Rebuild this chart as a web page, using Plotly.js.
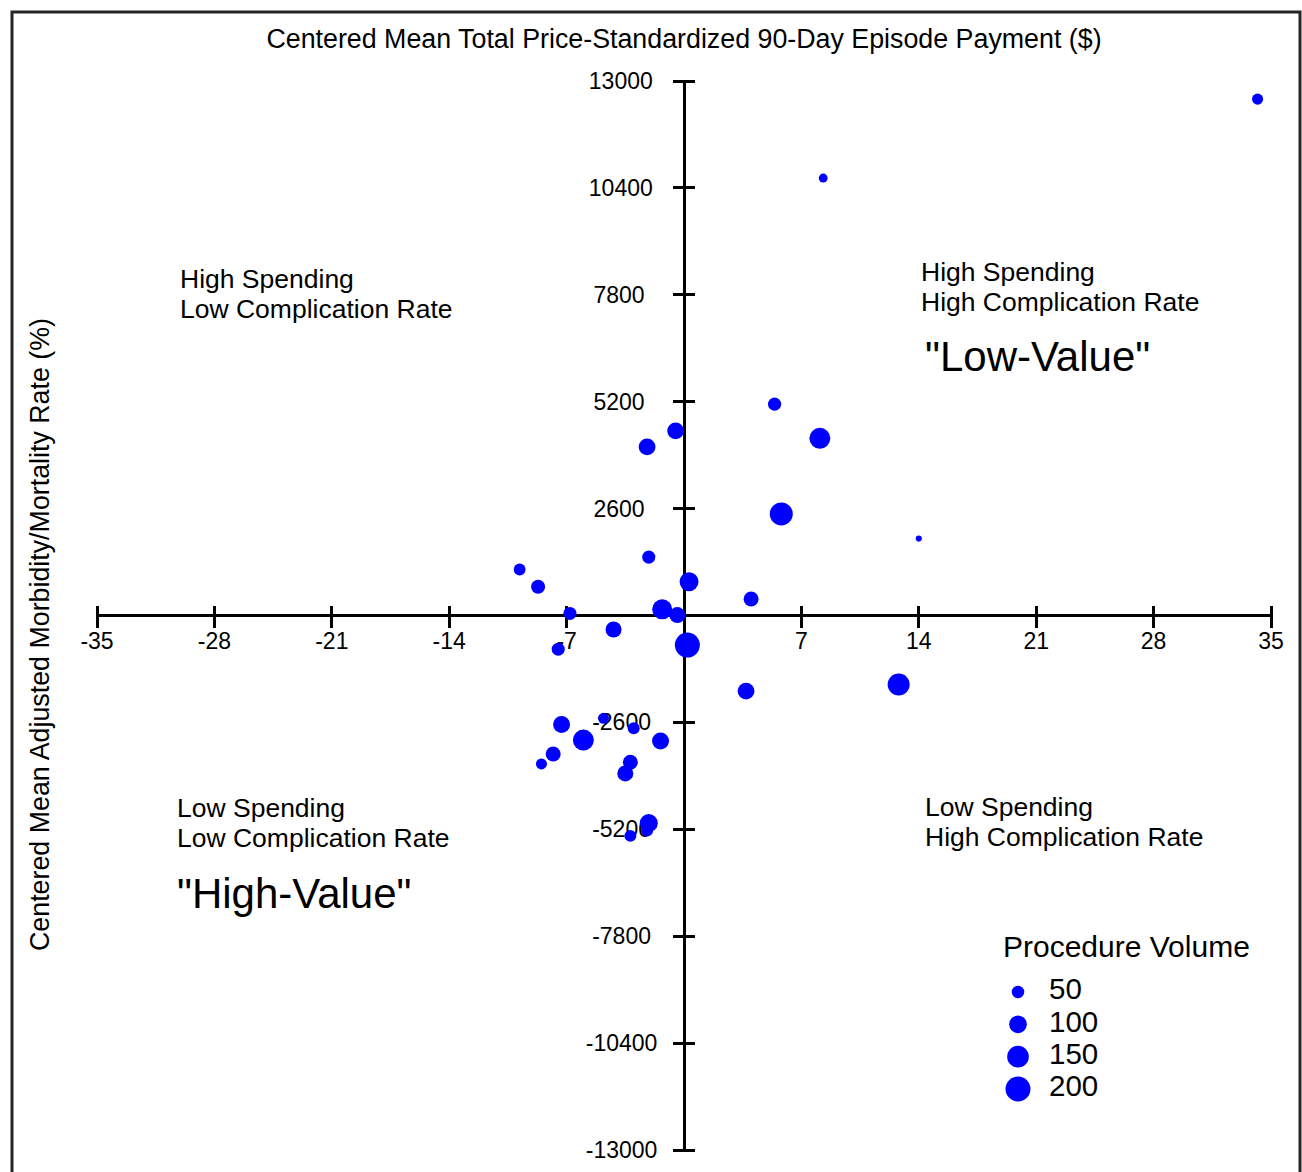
<!DOCTYPE html>
<html>
<head>
<meta charset="utf-8">
<script src="https://cdn.plot.ly/plotly-3.0.1.min.js"></script>
<style>
  html, body { margin: 0; padding: 0; background: #ffffff; }
  #chart { width: 1302px; height: 1172px; }
</style>
</head>
<body>
<div id="chart"></div>
<script>
// ---- data ----
// horizontal: centered mean adjusted morbidity/mortality rate (%)
const complicationRate = [34.2, 8.3, 14.0, 5.4, 8.1, 5.8, -0.5, -2.2, -2.1, -9.8, -8.7, 0.3, 4.0, -6.8, -1.3, -0.4, -4.2, 0.2, -7.5, 3.7, 12.8, -7.3, -4.8, -3.0, -6.0, -1.4, -7.8, -8.5, -3.2, -3.5, -2.1, -2.2, -3.2];
// vertical: centered mean total price-standardized 90-day episode payment ($)
const payment = [12560, 10640, 1870, 5140, 4310, 2470, 4490, 4100, 1420, 1120, 700, 820, 400, 50, 150, 10, -340, -720, -820, -1840, -1680, -2650, -2500, -2740, -3030, -3050, -3370, -3610, -3570, -3840, -5050, -5230, -5360];
// bubble size: procedure volume
const volume = [40, 25, 12, 55, 140, 170, 90, 90, 55, 45, 63, 115, 72, 55, 128, 82, 82, 200, 55, 90, 155, 92, 39, 46, 141, 92, 72, 39, 72, 82, 104, 46, 46];

const legendVolumes = [50, 100, 150, 200];
const legendLabels = ['50', '100', '150', '200'];

const xTickVals = [-35, -28, -21, -14, -7, 7, 14, 21, 28, 35];
const xTickText = ['-35', '-28', '-21', '-14', '-7', '7', '14', '21', '28', '35'];
const yTickVals = [-13000, -10400, -7800, -5200, -2600, 2600, 5200, 7800, 10400, 13000];
const yTickText = ['-13000', '-10400', '-7800\u2008', '-5200\u2008', '-2600\u2008', '2600\u2007', '5200\u2007', '7800\u2007', '10400\u2009', '13000\u2009'];

const titleTop = 'Centered Mean Total Price-Standardized 90-Day Episode Payment ($)';
const titleLeft = 'Centered Mean Adjusted Morbidity/Mortality Rate (%)';

// ---- styling ----
const FONT = 'Liberation Sans, Arial, Helvetica, sans-serif';
const BLUE = '#0000FF';
const SIZEREF = 0.64;
const HALF_TICK = 11;   // ticks cross the axis line, HALF_TICK px on each side

const W = 1302, H = 1172;
const M = { l: 97, r: 31, t: 81, b: 22 };
const PW = W - M.l - M.r, PH = H - M.t - M.b;
const px = x => (x - M.l) / PW;           // page px -> paper x
const py = y => (H - M.b - y) / PH;       // page px -> paper y

const traces = [
  {
    type: 'scatter', mode: 'markers',
    x: complicationRate, y: payment,
    xaxis: 'x', yaxis: 'y',
    marker: { color: BLUE, opacity: 1, size: volume, sizemode: 'area', sizeref: SIZEREF, line: { width: 0 } },
    cliponaxis: false, hoverinfo: 'skip'
  },
  {
    type: 'scatter', mode: 'markers',
    x: legendVolumes.map(() => 0), y: legendVolumes,
    xaxis: 'x3', yaxis: 'y3',
    marker: { color: BLUE, opacity: 1, size: legendVolumes, sizemode: 'area', sizeref: SIZEREF, line: { width: 0 } },
    cliponaxis: false, hoverinfo: 'skip'
  },
  {
    type: 'scatter', mode: 'text',
    x: legendVolumes.map(() => 3.1), y: legendVolumes,
    xaxis: 'x3', yaxis: 'y3',
    text: legendLabels, textposition: 'middle right',
    textfont: { family: FONT, size: 29.5, color: '#000' },
    cliponaxis: false, hoverinfo: 'skip'
  }
];

const layout = {
  width: W, height: H,
  margin: M,
  paper_bgcolor: '#ffffff', plot_bgcolor: 'rgba(0,0,0,0)',
  font: { family: FONT, color: '#000' },
  showlegend: false,
  hovermode: false,
  title: {
    text: titleTop, font: { family: FONT, size: 26.8, color: '#000' },
    x: px(684), xref: 'paper', xanchor: 'center',
    y: 1 - 39 / H, yref: 'container', yanchor: 'middle'
  },
  // horizontal axis: line = y zero-line; ticks/labels from a free axis lifted by half a tick
  xaxis: {
    range: [-35, 35], domain: [0, 1],
    anchor: 'free', position: 0.5 + HALF_TICK / PH,
    tickmode: 'array', tickvals: xTickVals, ticktext: xTickText,
    ticks: 'outside', ticklen: 2 * HALF_TICK, tickwidth: 3, tickcolor: '#000',
    showline: false, showgrid: false,
    zeroline: true, zerolinecolor: '#000', zerolinewidth: 3,
    tickfont: { family: FONT, size: 23, color: '#000' },
    ticklabelstandoff: -6, layer: 'below traces', fixedrange: true
  },
  yaxis: {
    range: [-13000, 13000], domain: [0, 1],
    anchor: 'free', position: 0.5 + HALF_TICK / PW,
    tickmode: 'array', tickvals: yTickVals, ticktext: yTickText,
    ticks: 'outside', ticklen: 2 * HALF_TICK, tickwidth: 3, tickcolor: '#000',
    showline: false, showgrid: false,
    zeroline: true, zerolinecolor: '#000', zerolinewidth: 3,
    tickfont: { family: FONT, size: 23, color: '#000' },
    ticklabelstandoff: 11, layer: 'below traces', fixedrange: true
  },
  xaxis3: {
    domain: [px(1018), px(1118)], range: [0, 10], anchor: 'y3',
    visible: false, fixedrange: true
  },
  yaxis3: {
    domain: [py(1089), py(992)], range: [200, 50], anchor: 'x3',
    visible: false, fixedrange: true
  },
  annotations: [
    {
      text: titleLeft, xref: 'paper', yref: 'paper', x: px(40), y: py(635),
      xanchor: 'center', yanchor: 'middle', textangle: -90, showarrow: false,
      font: { family: FONT, size: 26.8, color: '#000' }
    }
  ].concat([
    ['High Spending', 178, 279, 26.5],
    ['Low Complication Rate', 178, 309, 26.5],
    ['High Spending', 919, 272, 26.5],
    ['High Complication Rate', 919, 302, 26.5],
    ['"Low-Value"', 923, 356, 42],
    ['Low Spending', 175, 808, 26.5],
    ['Low Complication Rate', 175, 838, 26.5],
    ['"High-Value"', 175, 893, 42],
    ['Low Spending', 923, 807, 26.5],
    ['High Complication Rate', 923, 837, 26.5],
    ['Procedure Volume', 1001, 946, 30]
  ].map(a => ({
    text: a[0], xref: 'paper', yref: 'paper', x: px(a[1]), y: py(a[2]),
    xanchor: 'left', yanchor: 'middle', showarrow: false,
    font: { family: FONT, size: a[3], color: '#000' }
  }))),
  shapes: [
    {
      type: 'rect', xref: 'paper', yref: 'paper',
      x0: px(12), x1: px(1300), y0: py(1190), y1: py(12),
      line: { color: '#262626', width: 3 }, fillcolor: 'rgba(0,0,0,0)', layer: 'above'
    }
  ]
};

Plotly.newPlot('chart', traces, layout, { staticPlot: true, displayModeBar: false });
</script>
</body>
</html>
